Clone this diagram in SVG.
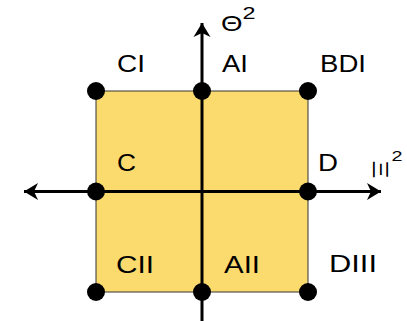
<svg xmlns="http://www.w3.org/2000/svg" width="407" height="321" viewBox="0 0 407 321">
<defs>
<style>
.lbl{font-family:"Liberation Sans",Arial,sans-serif;font-size:24.5px;fill:#000}
.ax{stroke:#000;stroke-width:3;fill:none}
.dot{fill:#000}
.sym{font-family:"Liberation Sans",Arial,sans-serif;fill:#000}
</style>
<marker id="ah" viewBox="0 0 16 18" refX="15" refY="9" markerWidth="16" markerHeight="18" markerUnits="userSpaceOnUse" orient="auto">
<path d="M15,9 L1,0.5 L5,9 L1,17.5 Z" fill="#000"/>
</marker>
</defs>
<g id="square">
<rect x="96" y="91" width="212" height="201" fill="#FCDB6E" stroke="#333" stroke-width="1"/>
</g>
<g id="connectors">
<line class="ax" x1="202" y1="321" x2="202" y2="23" marker-end="url(#ah)"/>
<line class="ax" x1="202" y1="191.5" x2="381" y2="191.5" marker-end="url(#ah)"/>
<line class="ax" x1="202" y1="191.5" x2="24" y2="191.5" marker-end="url(#ah)"/>
</g>
<g id="n-CI"><circle class="dot" cx="96" cy="91" r="9"/><text class="lbl" x="117" y="72" textLength="28" lengthAdjust="spacingAndGlyphs">CI</text></g>
<g id="n-AI"><circle class="dot" cx="202" cy="91" r="9"/><text class="lbl" x="222" y="72" textLength="26" lengthAdjust="spacingAndGlyphs">AI</text></g>
<g id="n-BDI"><circle class="dot" cx="308" cy="91" r="9"/><text class="lbl" x="320" y="72" textLength="46" lengthAdjust="spacingAndGlyphs">BDI</text></g>
<g id="n-C"><circle class="dot" cx="96" cy="191.5" r="9"/><text class="lbl" x="117" y="170.5" textLength="19" lengthAdjust="spacingAndGlyphs">C</text></g>
<g id="n-D"><circle class="dot" cx="308" cy="191.5" r="9"/><text class="lbl" x="318" y="171" textLength="20" lengthAdjust="spacingAndGlyphs">D</text></g>
<g id="n-CII"><circle class="dot" cx="96" cy="292" r="9"/><text class="lbl" x="116" y="273" textLength="38" lengthAdjust="spacingAndGlyphs">CII</text></g>
<g id="n-AII"><circle class="dot" cx="202" cy="292" r="9"/><text class="lbl" x="224" y="273" textLength="36" lengthAdjust="spacingAndGlyphs">AII</text></g>
<g id="n-DIII"><circle class="dot" cx="308" cy="292" r="9"/><text class="lbl" x="329" y="272" textLength="48" lengthAdjust="spacingAndGlyphs">DIII</text></g>
<g id="axis-theta"><text class="sym" x="221" y="30.5" font-size="22" textLength="21.5" lengthAdjust="spacingAndGlyphs">Θ</text><text class="sym" x="242.5" y="18.7" font-size="16.5" textLength="13" lengthAdjust="spacingAndGlyphs">2</text></g>
<g id="axis-xi"><text class="sym" font-size="22" text-anchor="middle" transform="translate(372.5,169.5) rotate(90) scale(1.25,1)" x="0" y="0">Ξ</text><text class="sym" x="391.5" y="161" font-size="15" textLength="11" lengthAdjust="spacingAndGlyphs">2</text></g>
</svg>
